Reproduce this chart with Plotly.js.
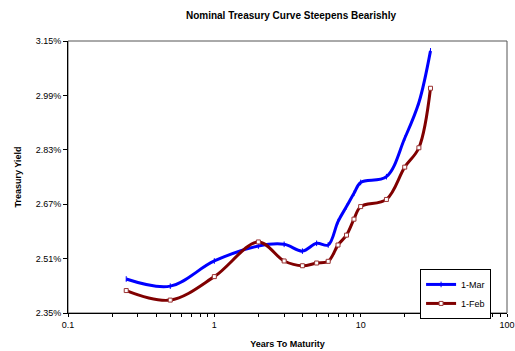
<!DOCTYPE html>
<html>
<head>
<meta charset="utf-8">
<script src="https://cdn.plot.ly/plotly-3.0.1.min.js"></script>
<style>html,body{margin:0;padding:0;background:#fff}#chart{width:515px;height:351px}</style>
</head>
<body>
<div id="chart"></div>
<script>
const maturities = [0.25, 0.5, 1, 2, 3, 4, 5, 6, 7, 8, 9, 10, 15, 20, 25, 30];
const yieldsMar = [2.450, 2.429, 2.503, 2.547, 2.552, 2.532, 2.555, 2.550, 2.619, 2.663, 2.702, 2.734, 2.751, 2.864, 2.969, 3.121];
const yieldsFeb = [2.416, 2.388, 2.457, 2.559, 2.503, 2.489, 2.497, 2.502, 2.550, 2.579, 2.626, 2.663, 2.684, 2.779, 2.836, 3.011];
const yTicks = [2.35, 2.51, 2.67, 2.83, 2.99, 3.15];
const xTicks = [0.1, 1, 10, 100];
const xMinorTicks = [0.2, 0.3, 0.4, 0.5, 0.6, 0.7, 0.8, 0.9, 2, 3, 4, 5, 6, 7, 8, 9, 20, 30, 40, 50, 60, 70, 80, 90];

const xAllTicks = xTicks.concat(xMinorTicks);
const xAllText = xTicks.map(String).concat(xMinorTicks.map(() => ''));

const font = "Liberation Sans, Arial, sans-serif";
const data = [
  {x: maturities, y: yieldsMar, name: '1-Mar', type: 'scatter', mode: 'lines+markers',
   line: {color: '#0000FF', width: 3, shape: 'spline', smoothing: 1},
   marker: {symbol: 'line-ns', size: 4, color: '#0000FF', line: {color: '#0000FF', width: 1}}},
  {x: maturities, y: yieldsFeb, name: '1-Feb', type: 'scatter', mode: 'lines+markers',
   line: {color: '#800000', width: 3, shape: 'spline', smoothing: 1},
   marker: {symbol: 'square', size: 4, color: '#ffffff', line: {color: '#993333', width: 1}}}
];
const layout = {
  width: 515, height: 351,
  margin: {l: 68, r: 8, t: 41, b: 38},
  paper_bgcolor: '#fff', plot_bgcolor: '#fff',
  showlegend: true,
  title: {text: 'Nominal Treasury Curve Steepens Bearishly', font: {family: font, size: 10, color: '#000', weight: 'bold'},
          x: 0.565, xanchor: 'center', y: 0.955, yanchor: 'middle'},
  xaxis: {type: 'log', range: [-1, 2], tickmode: 'array', tickvals: xAllTicks, ticktext: xAllText,
          ticks: 'outside', ticklen: 3, tickcolor: '#000', showgrid: false, zeroline: false,
          showline: true, linecolor: '#000', linewidth: 1,
          tickfont: {family: font, size: 9, color: '#000'},
          title: {text: 'Years To Maturity', font: {family: font, size: 9, color: '#000', weight: 'bold'}, standoff: 11}},
  yaxis: {range: [2.35, 3.15], tickvals: yTicks, ticktext: yTicks.map(v => v.toFixed(2) + '%'),
          ticks: 'outside', ticklen: 4, tickcolor: '#000', showgrid: false, zeroline: false,
          showline: true, linecolor: '#000', linewidth: 1,
          tickfont: {family: font, size: 9, color: '#000'},
          title: {text: 'Treasury Yield', font: {family: font, size: 9, color: '#000', weight: 'bold'}, standoff: 12}},
  shapes: [{type: 'rect', xref: 'paper', yref: 'paper', x0: 0, x1: 1, y0: 0, y1: 1,
            line: {color: '#555', width: 1}, layer: 'below'}],
  legend: {x: 0.802, y: 0.162, xanchor: 'left', yanchor: 'top', bgcolor: '#fff', bordercolor: '#000', borderwidth: 1,
           font: {family: font, size: 9, color: '#000'}, itemwidth: 30, tracegroupgap: 0},
  hovermode: false
};
Plotly.newPlot('chart', data, layout, {staticPlot: true, displayModeBar: false});
</script>
</body>
</html>
